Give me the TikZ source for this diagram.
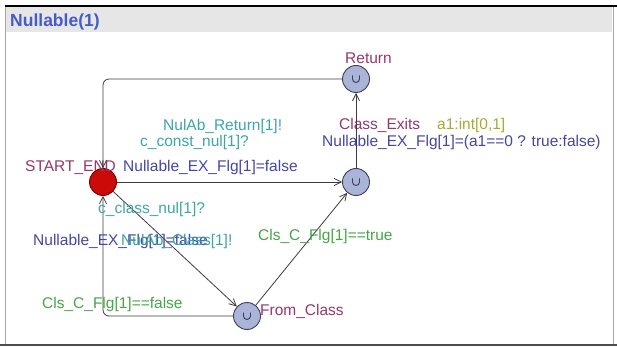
\documentclass[tikz,border=0pt]{standalone}
\usepackage{fontspec}
\setmainfont{Liberation Sans}
\usetikzlibrary{arrows.meta}
\definecolor{locname}{RGB}{150,55,105}
\definecolor{synccol}{RGB}{60,165,170}
\definecolor{updcol}{RGB}{70,70,160}
\definecolor{guardcol}{RGB}{70,165,70}
\definecolor{selcol}{RGB}{165,170,50}
\definecolor{titlecol}{RGB}{70,90,200}
\definecolor{nodefill}{RGB}{170,180,215}
\definecolor{nodedraw}{RGB}{60,60,95}
\definecolor{initfill}{RGB}{205,10,10}
\definecolor{initdraw}{RGB}{120,0,0}
\definecolor{edgecol}{RGB}{60,60,60}
\definecolor{headfill}{RGB}{230,230,230}
\begin{document}
\begin{tikzpicture}[x=1pt,y=-1pt,
  font=\fontsize{15.5}{18}\selectfont,
  lbl/.style={anchor=base west, inner sep=0pt},
  loc/.style={circle, minimum size=27pt, inner sep=0pt, line width=0.9pt},
  urgloc/.style={loc, fill=nodefill, draw=nodedraw,
    path picture={\draw[line width=0.9pt, nodedraw]
      ([shift={(-3.5pt,3.5pt)}]path picture bounding box.center) --
      ([shift={(-3.5pt,0pt)}]path picture bounding box.center)
      arc[start angle=180,end angle=360,radius=3.5pt] --
      ([shift={(3.5pt,3.5pt)}]path picture bounding box.center);}},
  initloc/.style={loc, fill=initfill, draw=initdraw},
  edge/.style={draw=edgecol, line width=0.8pt, rounded corners=6pt,
    -{Straight Barb[length=7pt,width=7pt]}}]
\useasboundingbox (0,0) rectangle (617,347);
% frame
\fill[headfill] (6,7) rectangle (612,32);
\draw[gray!70, line width=0.8pt] (5,6) rectangle (613,345);
\draw[black, line width=1.5pt] (5,6) -- (617,6);
\draw[black!70, line width=1.5pt] (0,345) -- (617,345);
\node[lbl, text=titlecol, font=\fontsize{17.5}{20}\selectfont\bfseries] (title) at (10,27) {Nullable(1)};
% locations
\node[urgloc] (ret) at (356,79) {};
\node[initloc] (start) at (103,182) {};
\node[urgloc] (mid) at (356,182) {};
\node[urgloc] (from) at (247,316) {};
% location names
\node[lbl, text=locname] (nret) at (345,64) {Return};
\node[lbl, text=locname] (nstart) at (25,172) {START\_END};
\node[lbl, text=locname] (nmid) at (339,130) {Class\_Exits};
\node[lbl, text=locname] (nfrom) at (260,315) {From\_Class};
% edges
\draw[edge] (ret.west) -| (start.north);
\draw[edge] (start) -- (mid);
\draw[edge] (mid) -- (ret);
\draw[edge] (start) -- (from);
\draw[edge] (from) -- (mid);
\draw[edge] (from.west) -| (start.south);
% edge labels
\node[lbl, text=synccol] (l1) at (163,131) {NulAb\_Return[1]!};
\node[lbl, text=synccol] (l2) at (140,147) {c\_const\_nul[1]?};
\node[lbl, text=updcol] (l3) at (123,172) {Nullable\_EX\_Flg[1]=false};
\node[lbl, text=selcol] (l4) at (437,130) {a1:int[0,1]};
\node[lbl, text=updcol] (l5) at (322,147) {Nullable\_EX\_Flg[1]=(a1==0 ? true:false)};
\node[lbl, text=synccol] (l6) at (98,213) {c\_class\_nul[1]?};
\node[lbl, text=updcol] (l7) at (33,245) {Nullable\_EX\_Flg[1]=false};
\node[lbl, text=synccol] (l8) at (121,245) {NulAb\_Class[1]!};
\node[lbl, text=guardcol] (l9) at (258,240) {Cls\_C\_Flg[1]==true};
\node[lbl, text=guardcol] (l10) at (42,308) {Cls\_C\_Flg[1]==false};
\end{tikzpicture}
\end{document}
